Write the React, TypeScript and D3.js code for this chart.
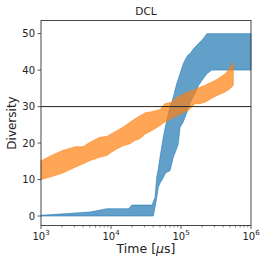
import * as d3 from "d3";
import React from "react";

// blue band: log10(time in µs), lower and upper diversity
const blueLogT = [3.0, 3.7, 3.94, 4.25, 4.3, 4.59, 4.604, 4.629, 4.653, 4.676, 4.7, 4.747, 4.771, 4.796, 4.843, 4.89, 4.939, 4.961, 4.986, 5.033, 5.057, 5.08, 5.104, 5.13, 5.18, 5.2, 5.25, 5.3, 5.37, 5.44, 6.0];
const blueLow = [0, 0, 0, 0, 0, 0, 0, 2.4, 5.0, 7.9, 9.0, 10.5, 11.5, 12.0, 12.4, 16.1, 18.5, 19.8, 24.3, 25.8, 27.1, 28.2, 29.8, 31.0, 33.0, 33.5, 35.8, 37.2, 39.0, 40.0, 40.0];
const blueHigh = [0.2, 1.1, 2.0, 2.0, 3.0, 3.0, 4.0, 5.1, 10.6, 13.0, 16.1, 21.6, 24.0, 26.2, 29.8, 32.6, 36.3, 37.5, 39.0, 41.8, 42.7, 43.5, 44.2, 44.5, 45.9, 46.3, 47.3, 48.2, 50.0, 50.0, 50.0];

// orange band
const orangeLogT = [3.0, 3.15, 3.3, 3.49, 3.6, 3.7, 3.84, 3.94, 4.0, 4.08, 4.18, 4.27, 4.34, 4.41, 4.49, 4.58, 4.7, 4.77, 4.82, 4.87, 4.91, 4.96, 4.99, 5.1, 5.2, 5.27, 5.34, 5.39, 5.44, 5.51, 5.53, 5.63, 5.7, 5.747];
const orangeLow = [10.0, 10.8, 11.7, 13.4, 14.3, 15.2, 16.1, 16.6, 17.4, 18.4, 19.3, 19.8, 20.7, 21.2, 22.5, 23.4, 24.8, 25.8, 26.2, 26.8, 27.2, 27.6, 28.0, 28.9, 30.8, 30.8, 31.2, 31.7, 32.3, 33.0, 33.2, 34.0, 34.9, 35.8];
const orangeHigh = [15.1, 16.6, 17.9, 19.0, 19.0, 20.2, 21.6, 21.8, 22.5, 23.3, 24.5, 25.7, 26.6, 27.4, 28.3, 28.6, 29.2, 30.8, 31.0, 31.2, 32.1, 32.6, 33.0, 34.0, 34.7, 35.3, 35.8, 36.3, 36.7, 37.4, 37.6, 39.0, 40.5, 42.0];

const yTicks = [0, 10, 20, 30, 40, 50];
const xMajor = [3, 4, 5, 6];
const threshold = 30;

const W = 266;
const H = 265;
const margin = { top: 20.5, right: 15, bottom: 39.5, left: 41 };
const font = "DejaVu Sans, sans-serif";

export default function App() {
  const x = d3
    .scaleLog()
    .domain([1e3, 1e6])
    .range([margin.left, W - margin.right]);
  const y = d3
    .scaleLinear()
    .domain([-2.6, 53.6])
    .range([H - margin.bottom, margin.top]);

  const band = (logT: number[], lo: number[], hi: number[]) => {
    const rows = logT.map((t, i) => ({ t: Math.pow(10, t), lo: lo[i], hi: hi[i] }));
    return d3
      .area<{ t: number; lo: number; hi: number }>()
      .x((d) => x(d.t))
      .y0((d) => y(d.lo))
      .y1((d) => y(d.hi))(rows) as string;
  };

  const minor: number[] = [];
  for (let e = 3; e < 6; e++) for (let k = 2; k < 10; k++) minor.push(k * Math.pow(10, e));

  const x0 = margin.left;
  const x1 = W - margin.right;
  const y0 = H - margin.bottom;
  const y1 = margin.top;

  return (
    <svg width={W} height={H} style={{ position: "absolute", left: 0, top: 0, background: "#fff" }}>
      <rect x={0} y={0} width={W} height={H} fill="#fff" />
      <path d={band(blueLogT, blueLow, blueHigh)} fill="#1f77b4" fillOpacity={0.7} stroke="#1f77b4" strokeOpacity={0.7} strokeWidth={0.8} />
      <path d={band(orangeLogT, orangeLow, orangeHigh)} fill="#ff7f0e" fillOpacity={0.7} stroke="#ff7f0e" strokeOpacity={0.7} strokeWidth={0.8} />
      <line x1={x0} x2={x1} y1={y(threshold)} y2={y(threshold)} stroke="#222" strokeWidth={1} />

      {/* spines */}
      <rect x={x0} y={y1} width={x1 - x0} height={y0 - y1} fill="none" stroke="#333" strokeWidth={0.9} />

      {/* y ticks */}
      {yTicks.map((v) => (
        <g key={v}>
          <line x1={x0 - 3.5} x2={x0} y1={y(v)} y2={y(v)} stroke="#333" strokeWidth={0.8} />
          <text x={x0 - 6} y={y(v)} dy="0.35em" textAnchor="end" fontSize={10} fontFamily={font} fill="#222">
            {v}
          </text>
        </g>
      ))}

      {/* x ticks */}
      {minor.map((v) => (
        <line key={v} x1={x(v)} x2={x(v)} y1={y0} y2={y0 + 2} stroke="#333" strokeWidth={0.6} />
      ))}
      {xMajor.map((e) => (
        <g key={e}>
          <line x1={x(Math.pow(10, e))} x2={x(Math.pow(10, e))} y1={y0} y2={y0 + 3.5} stroke="#333" strokeWidth={0.8} />
          <text x={x(Math.pow(10, e))} y={239.5} textAnchor="middle" fontSize={10} fontFamily={font} fill="#222">
            10<tspan fontSize={7} dy={-4.5}>{e}</tspan>
          </text>
        </g>
      ))}

      <text x={(x0 + x1) / 2} y={15} textAnchor="middle" fontSize={10.5} fontFamily={font} fill="#222">
        DCL
      </text>
      <text x={(x0 + x1) / 2} y={252.5} textAnchor="middle" fontSize={12.5} fontFamily={font} fill="#222">
        Time [<tspan fontStyle="italic">μ</tspan>s]
      </text>
      <text transform={`translate(16,${(y0 + y1) / 2}) rotate(-90)`} textAnchor="middle" fontSize={12} fontFamily={font} fill="#222">
        Diversity
      </text>
    </svg>
  );
}
